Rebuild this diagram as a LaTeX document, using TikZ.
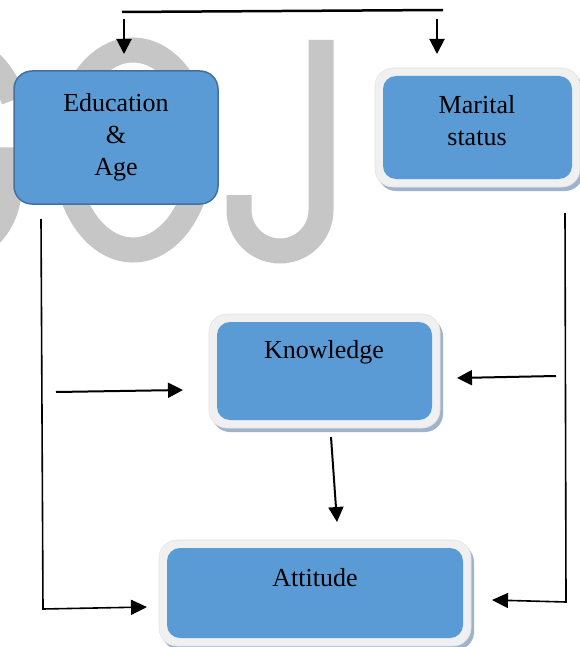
\documentclass[tikz,border=0pt]{standalone}
\usepackage{fontspec}
\setmainfont{Liberation Serif}
\usetikzlibrary{arrows.meta,backgrounds}
\definecolor{boxblue}{HTML}{5B9BD5}
\definecolor{edgeblue}{HTML}{41719C}
\definecolor{framegray}{HTML}{F0F0F0}
\definecolor{frameedge}{HTML}{E4E4E4}
\definecolor{shadowblue}{HTML}{9FB4CC}
\definecolor{wmgray}{HTML}{C6C6C6}
\begin{document}
\begin{tikzpicture}[x=1pt,y=-1pt,
  bluebox/.style={fill=boxblue, draw=none, rounded corners=13pt, inner sep=0pt, outer sep=0pt},
  edubox/.style={fill=boxblue, draw=edgeblue, line width=1.5pt, rounded corners=18pt, inner sep=0pt, outer sep=0pt, minimum width=204pt, minimum height=133pt, align=center, font=\fontsize{26pt}{32pt}\selectfont},
  txt/.style={font=\fontsize{26pt}{32pt}\selectfont, align=center, inner sep=0pt},
  conn/.style={line width=2pt, -{Triangle[length=15pt,width=15pt]}},
  longconn/.style={line width=1.6pt, -{Triangle[length=16pt,width=15pt]}},
  wm/.style={wmgray, line width=25pt},
  framefill/.style={fill=framegray, draw=frameedge, line width=0.6pt, rounded corners=18pt},
  shadowfill/.style={fill=shadowblue, rounded corners=18pt},
]
\useasboundingbox (0,0) rectangle (580,647);

% boxes
\node[edubox] (edu) at (116,137.5) {Education\\\&\\Age};
\node[bluebox, minimum width=189pt, minimum height=103pt] (mar) at (477.5,127.5) {};
\node[txt] (martxt) at (477,121) {Marital\\status};
\node[bluebox, minimum width=215pt, minimum height=98pt] (know) at (324.5,371) {};
\node[txt] (ktxt) at (324,352) {Knowledge};
\node[bluebox, minimum width=296pt, minimum height=90pt] (att) at (315,593) {};
\node[txt] (atxt) at (315,578) {Attitude};

\begin{pgfonlayer}{background}
  \fill[white] (0,0) rectangle (580,647);
  \begin{scope}
    \clip (0,0) rectangle (580,647);
    % watermark G O J
    \draw[wm] (13.7,100) arc[start angle=-30, end angle=-180, x radius=62, y radius=100];
    \draw[wm] (-30,160) -- (9.5,160) -- (9.5,185) .. controls (9.5,222) and (-15,250) .. (-50,255);
    \draw[wm] (133,150) ellipse [x radius=68, y radius=100];
    \draw[wm] (321,40) -- (321,210) arc[start angle=0, end angle=180, radius=41] -- (239,195);
  \end{scope}
  % frames and shadows
  \foreach \n in {mar,know,att}{
    \fill[shadowfill] ([shift={(-5,-4)}]\n.north west) rectangle ([shift={(11,12)}]\n.south east);
    \path[framefill] ([shift={(-8,-8)}]\n.north west) rectangle ([shift={(8,8)}]\n.south east);
  }
\end{pgfonlayer}

% connectors
\coordinate (t1) at (122,12);
\coordinate (t2) at (443,10);
\draw[line width=2.5pt] (t1) -- (t2);
\coordinate (d1s) at (124,19);
\coordinate (d1e) at (124,54);
\draw[conn] (d1s) -- (d1e);
\coordinate (d2s) at (437,19);
\coordinate (d2e) at (437,54);
\draw[conn] (d2s) -- (d2e);

\coordinate (l1) at (41,219);
\coordinate (l2) at (43,609);
\coordinate (l3) at (147,607);
\draw[longconn] (l1) -- (l2) -- (l3);

\coordinate (m1) at (56,392);
\coordinate (m2) at (183,390);
\draw[conn] (m1) -- (m2);

\coordinate (r1) at (565,213);
\coordinate (r2) at (566,602);
\coordinate (r3) at (492,600);
\draw[longconn] (r1) -- (r2) -- (r3);

\coordinate (rm1) at (556,376);
\coordinate (rm2) at (457,378);
\draw[conn] (rm1) -- (rm2);

\coordinate (ka1) at (331,437);
\coordinate (ka2) at (337,522);
\draw[conn] (ka1) -- (ka2);
\end{tikzpicture}
\end{document}
